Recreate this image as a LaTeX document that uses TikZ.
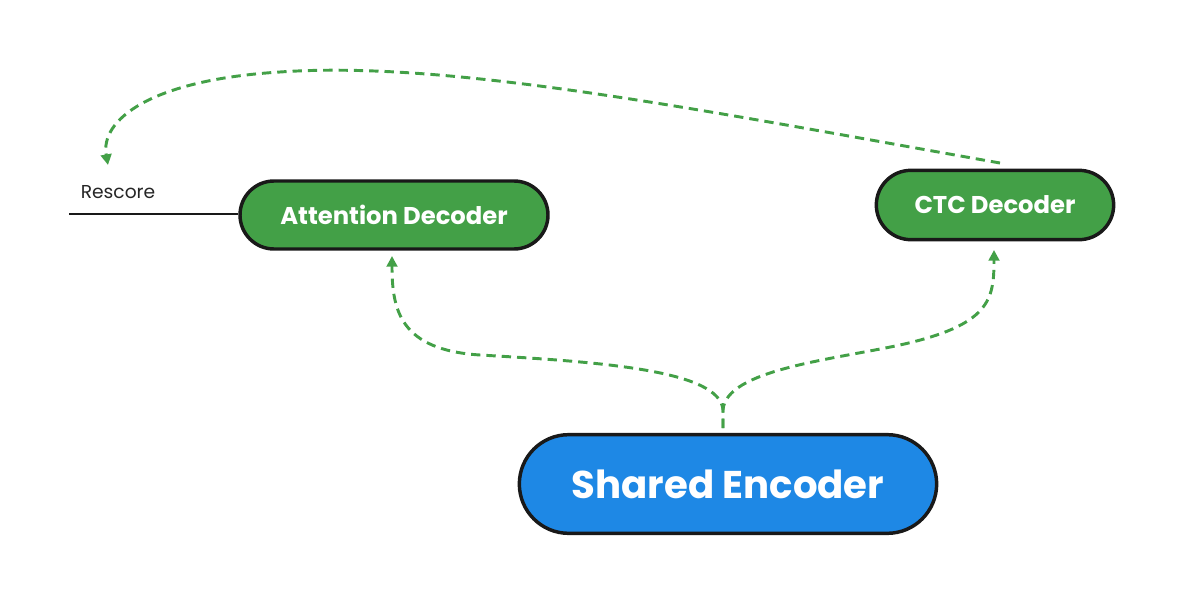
\documentclass[tikz,border=0pt]{standalone}
\usepackage{fontspec}
\setmainfont{Poppins}
\usetikzlibrary{arrows.meta,shapes.misc}
\definecolor{gfill}{HTML}{43A047}
\definecolor{bfill}{HTML}{1E88E5}
\definecolor{gline}{HTML}{43A047}
\tikzset{
  pill/.style={rounded rectangle, draw=black!90, line width=2.6pt, text=white, font=\bfseries, inner sep=0pt},
  flow/.style={gline, line width=2.2pt, dash pattern=on 7pt off 4.5pt, -{Triangle[length=8pt,width=8pt]}},
}
\begin{document}
\begin{tikzpicture}[x=0.75pt,y=-0.75pt]
\useasboundingbox (0,0) rectangle (1183,603);
\node[pill, fill=gfill, minimum width=231pt, minimum height=51pt, font=\bfseries\fontsize{18.2}{20}\selectfont] (att) at (394,215) {Attention Decoder};
\node[pill, fill=gfill, minimum width=178pt, minimum height=52pt, font=\bfseries\fontsize{18.2}{20}\selectfont] (ctc) at (995,205) {CTC Decoder};
\node[pill, fill=bfill, minimum width=313pt, minimum height=74pt, font=\bfseries\fontsize{29}{32}\selectfont] (enc) at (728,484) {Shared Encoder};
\node[font=\fontsize{14}{16}\selectfont, text=black!85] (res) at (118,192) {Rescore};
\coordinate (l0) at (69,214);
\draw[black!90, line width=1.7pt] (l0) -- (l0 -| att.west);
\coordinate (split) at (723,410);
\draw[flow] (723,428) -- (split) .. controls (720,370) and (600,362) .. (480,355) .. controls (400,350) and (392,310) .. (392,256);
\draw[flow] (723,428) -- (split) .. controls (726,370) and (830,360) .. (900,345) .. controls (990,325) and (994,300) .. (994,250);
\coordinate (top) at (108,165);
\draw[flow] (1000,163) .. controls (700,110) and (450,60) .. (280,72) .. controls (150,80) and (100,120) .. (top);
\end{tikzpicture}
\end{document}
